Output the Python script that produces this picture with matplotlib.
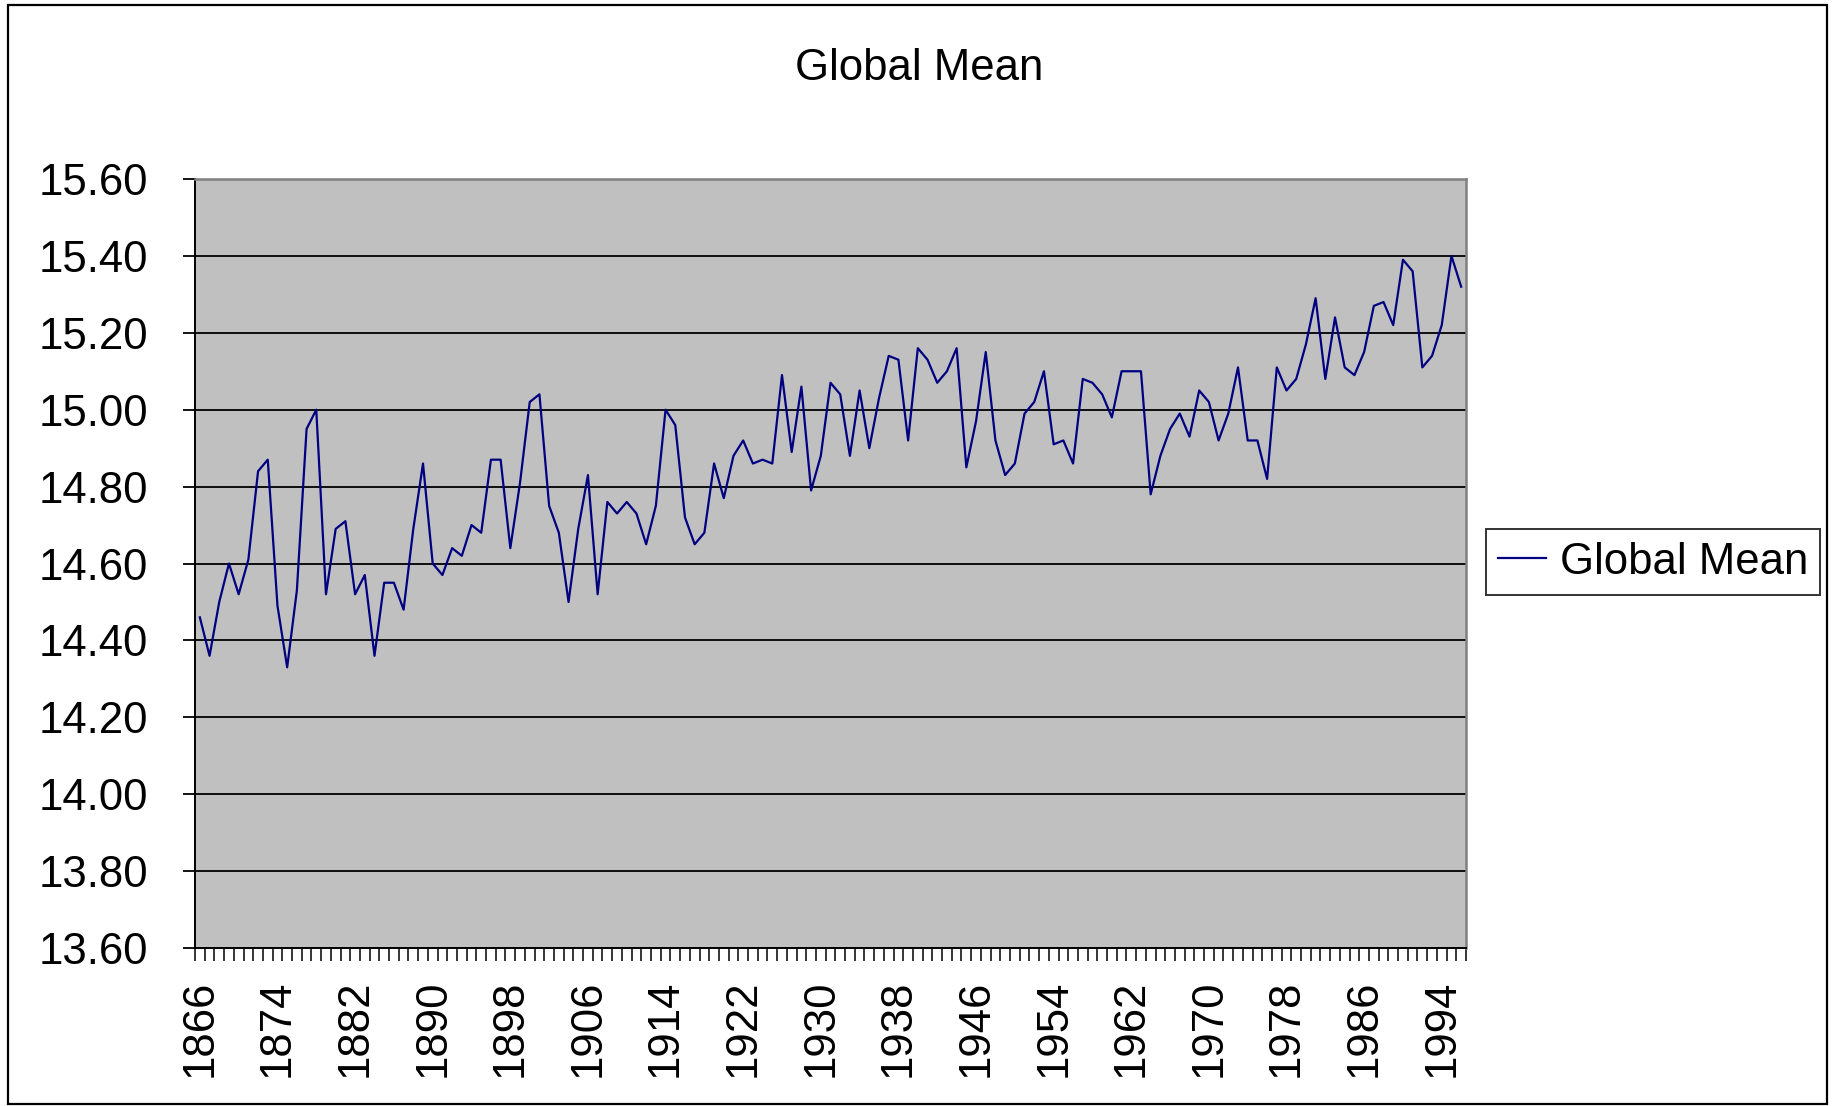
import numpy as np
import matplotlib
matplotlib.use("Agg")
import matplotlib.pyplot as plt
from matplotlib.patches import Rectangle
from matplotlib.ticker import FixedLocator, FormatStrFormatter

plt.rcParams['font.family'] = ['Liberation Sans', 'DejaVu Sans']

# yearly global mean temperature
years = list(range(1866, 1997))
global_mean = [
    14.46, 14.36, 14.50, 14.60, 14.52, 14.61, 14.84, 14.87, 14.49, 14.33,  # 1866-1875
    14.53, 14.95, 15.00, 14.52, 14.69, 14.71, 14.52, 14.57, 14.36, 14.55,  # 1876-1885
    14.55, 14.48, 14.69, 14.86, 14.60, 14.57, 14.64, 14.62, 14.70, 14.68,  # 1886-1895
    14.87, 14.87, 14.64, 14.81, 15.02, 15.04, 14.75, 14.68, 14.50, 14.69,  # 1896-1905
    14.83, 14.52, 14.76, 14.73, 14.76, 14.73, 14.65, 14.75, 15.00, 14.96,  # 1906-1915
    14.72, 14.65, 14.68, 14.86, 14.77, 14.88, 14.92, 14.86, 14.87, 14.86,  # 1916-1925
    15.09, 14.89, 15.06, 14.79, 14.88, 15.07, 15.04, 14.88, 15.05, 14.90,  # 1926-1935
    15.03, 15.14, 15.13, 14.92, 15.16, 15.13, 15.07, 15.10, 15.16, 14.85,  # 1936-1945
    14.97, 15.15, 14.92, 14.83, 14.86, 14.99, 15.02, 15.10, 14.91, 14.92,  # 1946-1955
    14.86, 15.08, 15.07, 15.04, 14.98, 15.10, 15.10, 15.10, 14.78, 14.88,  # 1956-1965
    14.95, 14.99, 14.93, 15.05, 15.02, 14.92, 14.99, 15.11, 14.92, 14.92,  # 1966-1975
    14.82, 15.11, 15.05, 15.08, 15.17, 15.29, 15.08, 15.24, 15.11, 15.09,  # 1976-1985
    15.15, 15.27, 15.28, 15.22, 15.39, 15.36, 15.11, 15.14, 15.22, 15.40,  # 1986-1995
    15.32,                                                                 # 1996
]
series_name = "Global Mean"
y_ticks = [13.6, 13.8, 14.0, 14.2, 14.4, 14.6, 14.8, 15.0, 15.2, 15.4, 15.6]

W, H = 1835, 1106
fig = plt.figure(figsize=(W / 100, H / 100), dpi=100)
ax = fig.add_axes([195 / W, 1 - 948 / H, (1466 - 195) / W, (948 - 179) / H])

x = np.arange(len(years))
line, = ax.plot(x, global_mean, color='#000080', lw=1.6, label=series_name, zorder=3)

ax.set_facecolor('#C0C0C0')
ax.set_xlim(-0.5, len(years) - 0.5)
ax.set_ylim(y_ticks[0], y_ticks[-1])

ax.set_yticks(y_ticks)
ax.yaxis.set_major_formatter(FormatStrFormatter('%.2f'))
ax.grid(axis='y', color='black', lw=1.3, zorder=1)
ax.set_axisbelow(True)
ax.tick_params(axis='y', direction='out', length=9, width=1.3, pad=25,
               labelsize=31.5, color='black')

# category labels every 8 years, tick marks between every category
label_idx = list(range(0, len(years), 8))
ax.set_xticks(label_idx)
ax.set_xticklabels([str(years[i]) for i in label_idx], rotation=90)
ax.xaxis.set_minor_locator(FixedLocator(np.arange(-0.5, len(years), 1.0)))
ax.tick_params(axis='x', which='major', length=0, pad=23, labelsize=31.5)
ax.tick_params(axis='x', which='minor', direction='out', length=9, width=1.1)

for side in ['top', 'right']:
    ax.spines[side].set_color('#808080')
    ax.spines[side].set_linewidth(1.8)
for side in ['left', 'bottom']:
    ax.spines[side].set_color('black')
    ax.spines[side].set_linewidth(1.4)

fig.text(919 / W, 1 - 68 / H, "Global Mean", ha='center', va='center', fontsize=31.5)

leg = fig.legend(handles=[line], loc='center left',
                 bbox_to_anchor=(1486 / W, 1 - 562 / H), fontsize=31.5,
                 frameon=True, fancybox=False, edgecolor='black',
                 handlelength=1.1, handletextpad=0.3, borderpad=0.28,
                 borderaxespad=0)
leg.get_frame().set_linewidth(1.4)
leg.get_lines()[0].set_linewidth(1.6)

fig.patches.append(Rectangle((8 / W, 2 / H), (1827 - 8) / W, (1104 - 5) / H,
                             transform=fig.transFigure, fill=False,
                             edgecolor='black', lw=1.6))

fig.savefig('out.png', dpi=100, facecolor='white')
